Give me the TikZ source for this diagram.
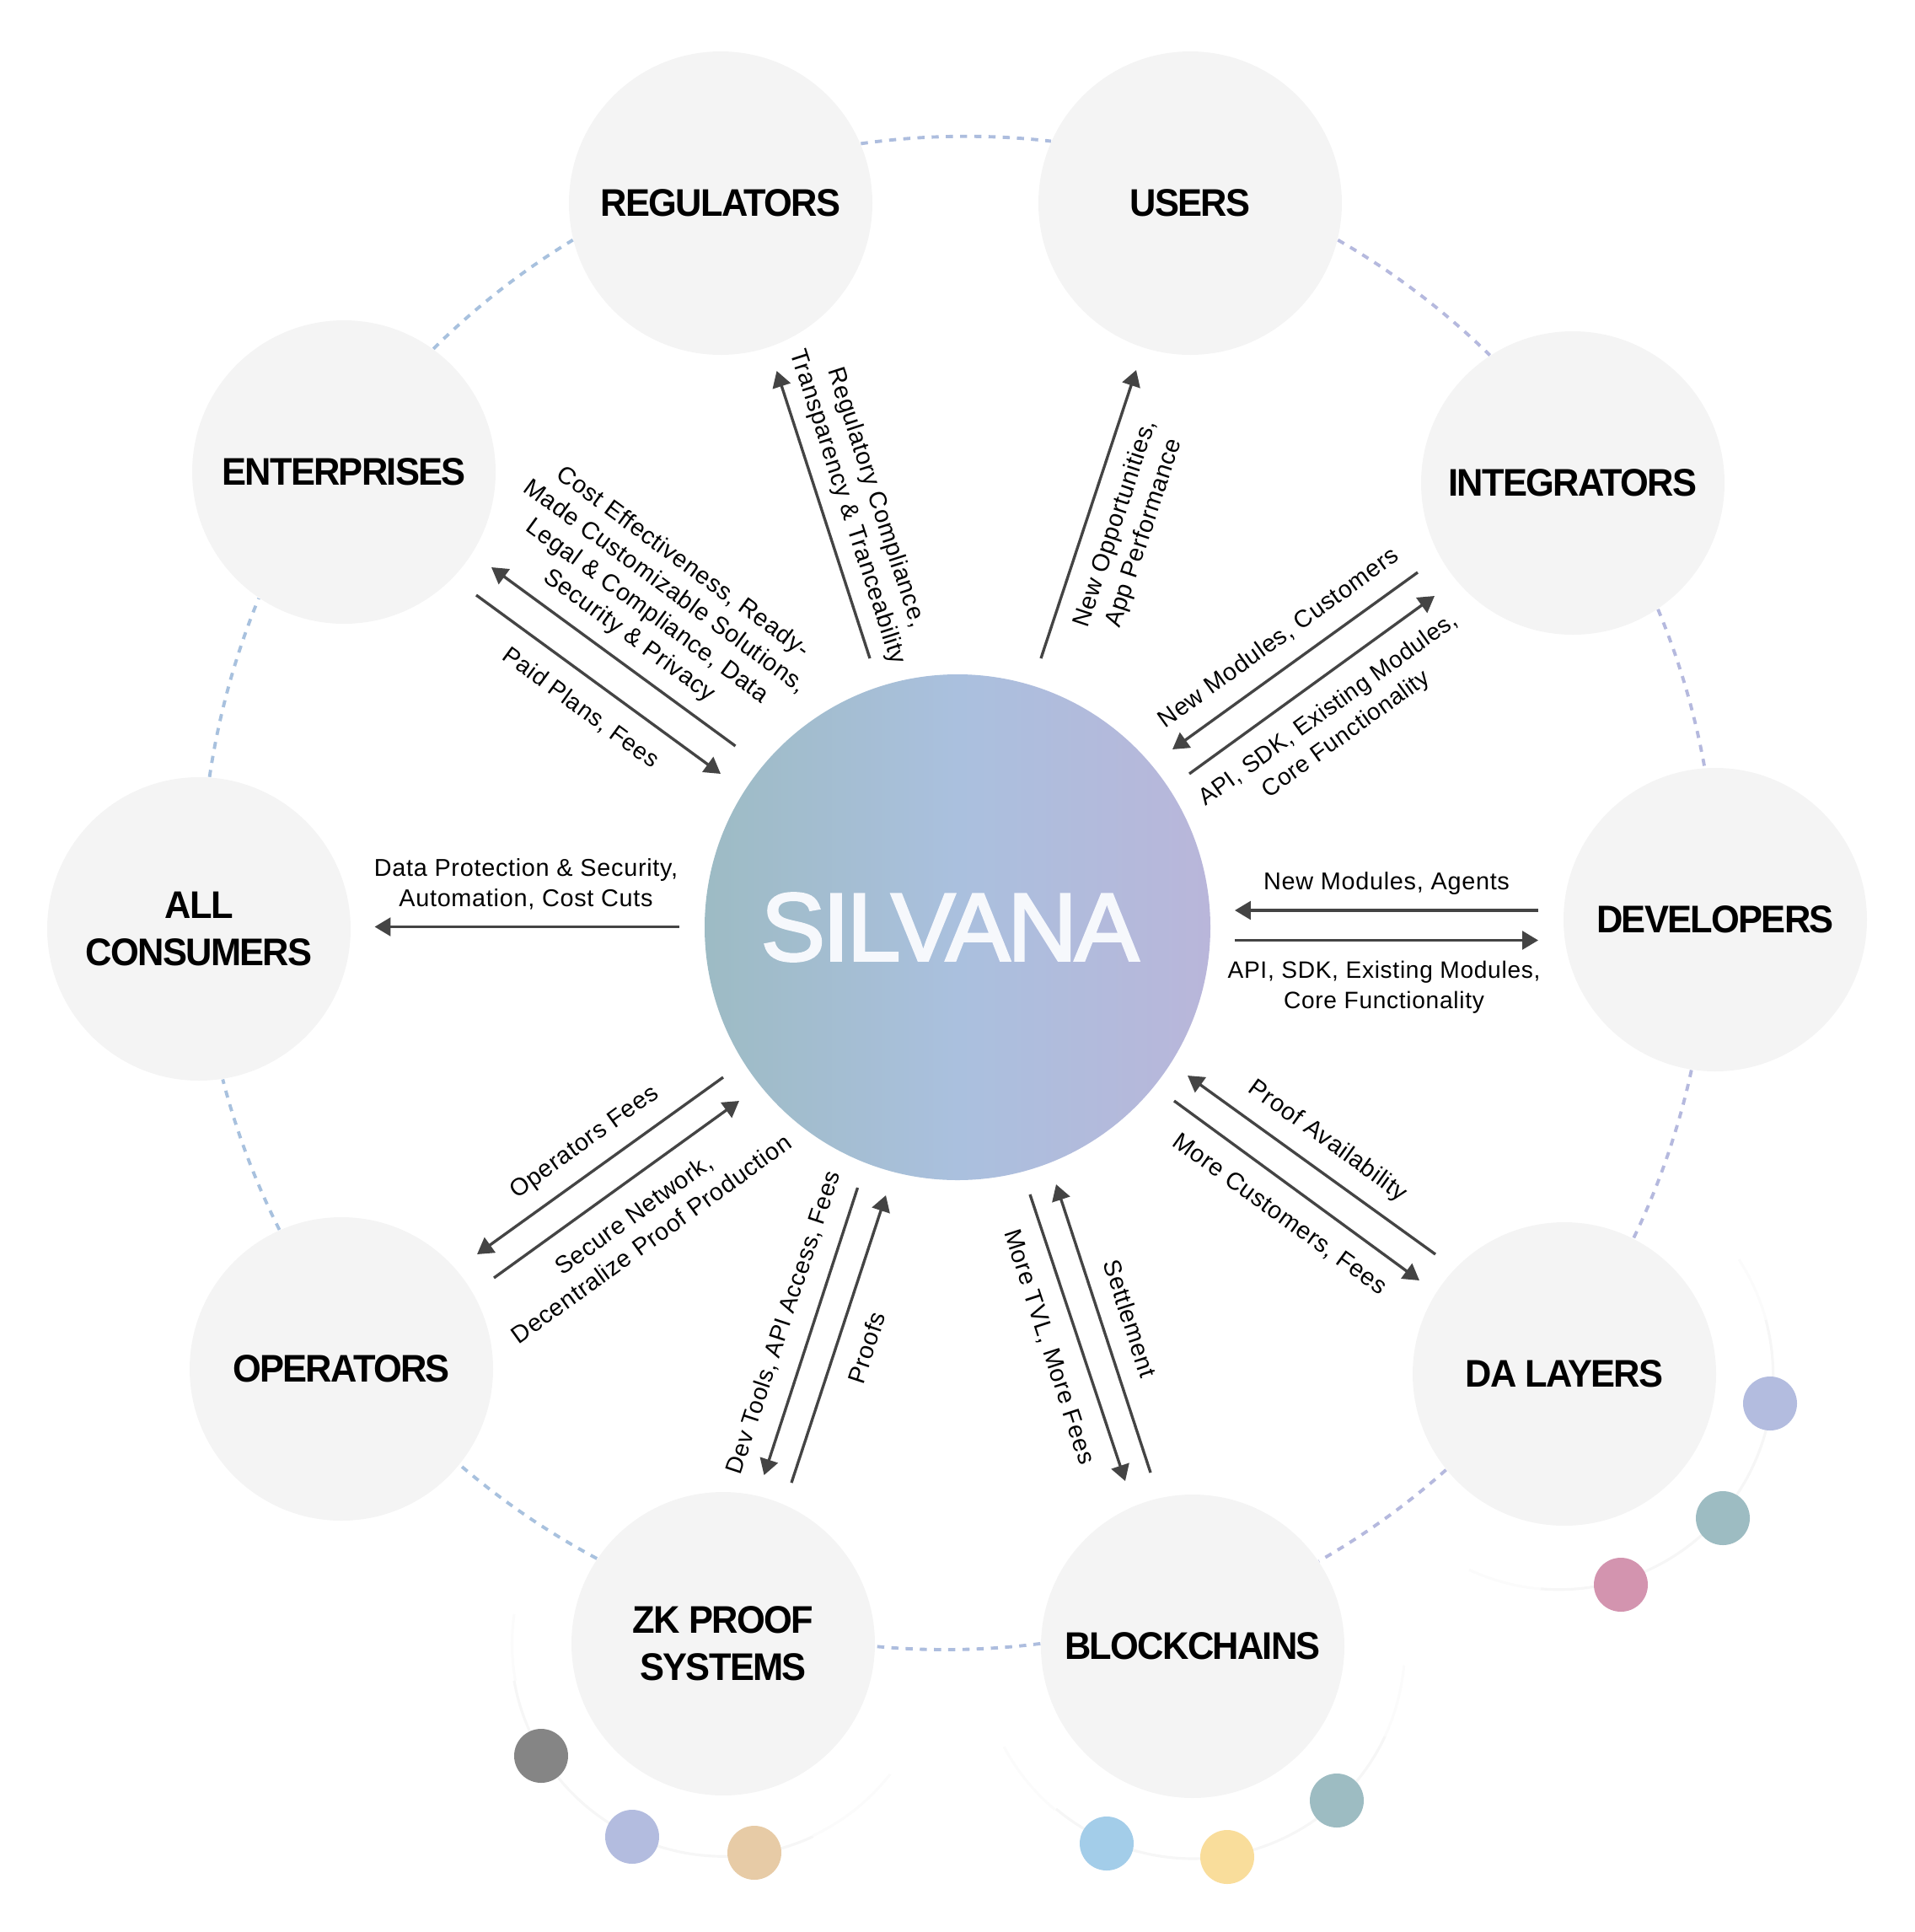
\documentclass[tikz,border=0pt]{standalone}
\usepackage{xcolor}
\usepackage{fontspec}
\usepackage{tikz}
\usetikzlibrary{arrows.meta}
\setmainfont[LetterSpace=2.5]{Liberation Sans}
\newfontfamily\partyfont[LetterSpace=-3.7,FakeStretch=0.95]{Liberation Sans}
\newfontfamily\silvanafont[FakeBold=2.5,LetterSpace=-2.5]{Liberation Sans}
\definecolor{partygray}{HTML}{F4F4F4}
\definecolor{arrowgray}{HTML}{444444}
\definecolor{ringleft}{HTML}{A8C1DE}
\definecolor{ringmid}{HTML}{ADBDDE}
\definecolor{ringright}{HTML}{B5B9DE}
\definecolor{halogray}{HTML}{F6F6F6}
\definecolor{halofaint}{HTML}{FBFBFB}
\definecolor{silvanaleft}{HTML}{9DBBC4}
\definecolor{silvanamid}{HTML}{AAC0DE}
\definecolor{silvanaright}{HTML}{B9B6DA}
\definecolor{silvanatext}{HTML}{F6F8FC}
\definecolor{dotlilac}{HTML}{B3BCDF}
\definecolor{dotteal}{HTML}{9DBCC2}
\definecolor{dotpink}{HTML}{D394AF}
\definecolor{dotblue}{HTML}{A3CDE9}
\definecolor{dotyellow}{HTML}{F9DD9B}
\definecolor{dotgray}{HTML}{858585}
\definecolor{dottan}{HTML}{E7CBA6}

\begin{document}
\begin{tikzpicture}[
		party/.style={circle, fill=partygray, minimum size=3.6cm, inner sep=0pt, align=center, font=\fontsize{13}{16}\partyfont\bfseries},
		flow/.style={align=center, inner sep=0pt, font=\fontsize{8.2}{10.2}\selectfont},
		flowsmall/.style={flow, font=\fontsize{8}{10.2}\selectfont},
		arrow/.style={-{Triangle[length=5.4pt,width=6.2pt]}, line width=0.95pt, draw=arrowgray},
		ringline/.style={line width=1.1pt, dash pattern=on 2.4pt off 2.4pt},
		halo/.style={line width=0.9pt, draw=halogray},
		halofade/.style={line width=0.9pt, draw=halofaint},
		dot/.style={circle, minimum size=0.64cm, inner sep=0pt}
	]
		\useasboundingbox (0,0) rectangle (22.72,-22.92);

		% Outer circles
		\node[party] (regulators) at (8.55,-2.41) {REGULATORS};
		\node[party] (users) at (14.12,-2.41) {USERS};
		\node[party] (integrators) at (18.66,-5.73) {INTEGRATORS};
		\node[party] (developers) at (20.35,-10.91) {DEVELOPERS};
		\node[party] (dalayers) at (18.56,-16.30) {DA LAYERS};
		\node[party] (blockchains) at (14.15,-19.53) {BLOCKCHAINS};
		\node[party] (zkproof) at (8.58,-19.50) {ZK PROOF\\SYSTEMS};
		\node[party] (operators) at (4.05,-16.24) {OPERATORS};
		\node[party] (consumers) at (2.36,-11.02) {ALL\\CONSUMERS};
		\node[party] (enterprises) at (4.08,-5.60) {ENTERPRISES};

		% Middle circle
		\node[circle, minimum size=6cm, inner sep=0pt, left color=silvanaleft, right color=silvanaright, middle color=silvanamid, text=silvanatext, font=\fontsize{32.5}{36}\silvanafont] (silvana) at (11.36,-11.00) {\raisebox{-1.1pt}{SILVANA}\kern0.18cm};

		% Dashed ring
		\draw[ringline, ringmid] (regulators.23.4) to[bend left=7.3, looseness=0.85] (users.156.3);
		\draw[ringline, ringright] (users.346.4) to[bend left=7.3, looseness=0.85] (integrators.123);
		\draw[ringline, ringright] (integrators.304.4) to[bend left=6.3, looseness=0.85] (developers.94.2);
		\draw[ringline, ringright] (developers.261.8) to[bend left=6.8, looseness=0.85] (dalayers.63.7);
		\draw[ringline, ringright] (dalayers.219.5) to[bend left=6, looseness=0.85] (blockchains.34.9);
		\draw[ringline, ringmid] (blockchains.179.9) to[bend left=6.3, looseness=0.85] (zkproof.359.2);
		\draw[ringline, ringleft] (zkproof.146.2) to[bend left=6.3, looseness=0.85] (operators.321.3);
		\draw[ringline, ringleft] (operators.114) to[bend left=6.1, looseness=0.85] (consumers.279.4);
		\draw[ringline, ringleft] (consumers.86) to[bend left=7, looseness=0.85] (enterprises.236.6);
		\draw[ringline, ringleft] (enterprises.54.4) to[bend left=6.8, looseness=0.85] (regulators.194.5);

		% Small rings and dots
		\draw[halofade] (20.63,-14.94) arc (33:15:2.54);
		\draw[halo] (20.95,-15.66) arc (15:-95:2.54);
		\draw[halofade] (18.28,-18.85) arc (-95:-115:2.54);
		\draw[halofade] (11.91,-20.72) arc (-152:-130:2.52);
		\draw[halo] (12.53,-21.46) arc (-130:-25:2.52);
		\draw[halofade] (16.43,-20.60) arc (-25:-5:2.52);
		\draw[halofade] (6.10,-19.15) arc (172:190:2.52);
		\draw[halo] (6.10,-19.94) arc (190:295:2.52);
		\draw[halofade] (9.64,-21.78) arc (295:322:2.52);
		\node[dot, fill=dotlilac] (dot1) at (21.00,-16.65) {};
		\node[dot, fill=dotteal] (dot2) at (20.44,-18.01) {};
		\node[dot, fill=dotpink] (dot3) at (19.23,-18.80) {};
		\node[dot, fill=dotblue] (dot4) at (13.13,-21.87) {};
		\node[dot, fill=dotyellow] (dot5) at (14.56,-22.03) {};
		\node[dot, fill=dotteal] (dot6) at (15.86,-21.36) {};
		\node[dot, fill=dotgray] (dot7) at (6.42,-20.83) {};
		\node[dot, fill=dotlilac] (dot8) at (7.50,-21.79) {};
		\node[dot, fill=dottan] (dot9) at (8.95,-21.98) {};

		% Users and regulators
		\coordinate (a1) at (12.35,-7.81);
		\coordinate (a2) at (13.48,-4.39);
		\draw[arrow] (a1) -- (a2);
		\node[flow, rotate=71.7] (l1) at (13.41,-6.27) {New Opportunities,\\App Performance};
		\coordinate (b1) at (10.32,-7.81);
		\coordinate (b2) at (9.215,-4.40);
		\draw[arrow] (b1) -- (b2);
		\node[flow, rotate=-72] (l2) at (10.22,-5.96) {Regulatory Compliance,\\Transparency \& Tranceability};

		% Integrators
		\coordinate (c1) at (16.82,-6.79);
		\coordinate (c2) at (13.91,-8.89);
		\draw[arrow] (c1) -- (c2);
		\node[flow, rotate=35.8] (l3) at (15.17,-7.57) {New Modules, Customers};
		\coordinate (d1) at (14.11,-9.18);
		\coordinate (d2) at (17.02,-7.07);
		\draw[arrow] (d1) -- (d2);
		\node[flowsmall, rotate=35.8] (l4) at (15.87,-8.57) {API, SDK, Existing Modules,\\Core Functionality};

		% Developers
		\coordinate (e1) at (18.25,-10.80);
		\coordinate (e2) at (14.65,-10.80);
		\draw[arrow] (e1) -- (e2);
		\node[flow] (l5) at (16.45,-10.48) {New Modules, Agents};
		\coordinate (f1) at (14.65,-11.155);
		\coordinate (f2) at (18.25,-11.155);
		\draw[arrow] (f1) -- (f2);
		\node[flowsmall] (l6) at (16.42,-11.71) {API, SDK, Existing Modules,\\Core Functionality};

		% DA layers
		\coordinate (g1) at (17.03,-14.88);
		\coordinate (g2) at (14.09,-12.76);
		\draw[arrow] (g1) -- (g2);
		\node[flow, rotate=-35.8] (l7) at (15.75,-13.54) {Proof Availability};
		\coordinate (h1) at (13.93,-13.06);
		\coordinate (h2) at (16.84,-15.19);
		\draw[arrow] (h1) -- (h2);
		\node[flow, rotate=-35.8] (l8) at (15.18,-14.41) {More Customers, Fees};

		% Blockchains
		\coordinate (i1) at (12.22,-14.17);
		\coordinate (i2) at (13.35,-17.57);
		\draw[arrow] (i1) -- (i2);
		\node[flow, rotate=-71.9] (l9) at (12.44,-15.98) {More TVL, More Fees};
		\coordinate (j1) at (13.65,-17.47);
		\coordinate (j2) at (12.53,-14.05);
		\draw[arrow] (j1) -- (j2);
		\node[flow, rotate=-71.9] (l10) at (13.41,-15.64) {Settlement};

		% ZK proof systems
		\coordinate (k1) at (10.175,-14.09);
		\coordinate (k2) at (9.065,-17.50);
		\draw[arrow] (k1) -- (k2);
		\node[flowsmall, rotate=71.7] (l11) at (9.30,-15.69) {Dev Tools, API Access, Fees};
		\coordinate (m1) at (9.39,-17.59);
		\coordinate (m2) at (10.51,-14.18);
		\draw[arrow] (m1) -- (m2);
		\node[flow, rotate=71.7] (l12) at (10.28,-15.99) {Proofs};

		% Operators
		\coordinate (n1) at (8.58,-12.78);
		\coordinate (n2) at (5.66,-14.88);
		\draw[arrow] (n1) -- (n2);
		\node[flow, rotate=35.8] (l13) at (6.94,-13.56) {Operators Fees};
		\coordinate (o1) at (5.86,-15.16);
		\coordinate (o2) at (8.77,-13.06);
		\draw[arrow] (o1) -- (o2);
		\node[flow, rotate=35.8] (l14) at (7.62,-14.55) {Secure Network,\\Decentralize Proof Production};

		% All consumers
		\coordinate (p1) at (8.056,-10.995);
		\coordinate (p2) at (4.445,-10.995);
		\draw[arrow] (p1) -- (p2);
		\node[flow] (l15) at (6.24,-10.49) {Data Protection \& Security,\\Automation, Cost Cuts};

		% Enterprises
		\coordinate (q1) at (8.725,-8.85);
		\coordinate (q2) at (5.83,-6.73);
		\draw[arrow] (q1) -- (q2);
		\node[flow, rotate=-36.2] (l16) at (7.78,-7.11) {Cost Effectiveness, Ready-\\Made Customizable Solutions,\\Legal \& Compliance, Data\\Security \& Privacy};
		\coordinate (r1) at (5.65,-7.06);
		\coordinate (r2) at (8.55,-9.18);
		\draw[arrow] (r1) -- (r2);
		\node[flowsmall, rotate=-36.2] (l17) at (6.89,-8.40) {Paid Plans, Fees};
	\end{tikzpicture}
\end{document}
